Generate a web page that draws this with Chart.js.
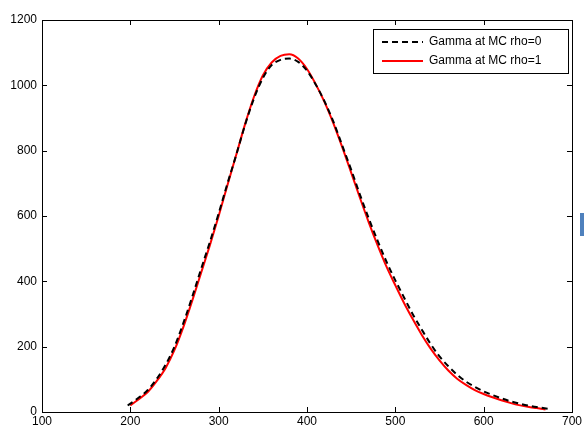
<!DOCTYPE html>
<html>
<head>
<meta charset="utf-8">
<script src="https://cdn.jsdelivr.net/npm/chart.js@4/dist/chart.umd.min.js"></script>
<style>
  html, body { margin: 0; padding: 0; background: #fff; }
  #wrap { width: 584px; height: 428px; }
</style>
</head>
<body>
<div id="wrap"><canvas id="gammaChart" width="584" height="428"></canvas></div>
<script>
// x positions and values
const xRho0 = [197, 210, 220, 230, 240, 250, 260, 270, 280, 290, 300, 310, 320, 330, 340, 350, 360, 370, 380, 390,
               400, 410, 420, 430, 440, 450, 460, 470, 480, 490, 500, 510, 520, 530, 540, 550, 560, 570, 580, 590,
               600, 610, 620, 630, 640, 650, 660, 676];
const yRho0 = [20, 45, 68, 102, 145, 200, 272, 352, 437, 520, 608, 700, 788, 880, 960, 1022, 1062, 1078, 1082, 1072,
               1045, 1002, 950, 888, 815, 742, 665, 592, 524, 460, 403, 350, 298, 252, 208, 170, 140, 114, 93, 77,
               63, 52, 42, 33, 26, 20, 15, 9];
const xRho1 = [200, 210, 220, 230, 240, 250, 260, 270, 280, 290, 300, 310, 320, 330, 340, 350, 360, 370, 380, 390,
               400, 410, 420, 430, 440, 450, 460, 470, 480, 490, 500, 510, 520, 530, 540, 550, 560, 570, 580, 590,
               600, 610, 620, 630, 640, 650, 660, 670];
const yRho1 = [20, 40, 62, 95, 135, 190, 260, 340, 425, 510, 600, 695, 788, 882, 965, 1030, 1070, 1090, 1095, 1082,
               1050, 1003, 948, 883, 810, 733, 655, 580, 510, 445, 388, 333, 283, 236, 194, 158, 127, 102, 83, 67,
               55, 45, 36, 28, 21, 16, 12, 8];
const seriesLabels = ['Gamma at MC rho=0', 'Gamma at MC rho=1'];
const xTicks = [100, 200, 300, 400, 500, 600, 700];
const yTicks = [0, 200, 400, 600, 800, 1000, 1200];

const pts = (xs, ys) => xs.map((x, i) => ({ x: x, y: ys[i] }));

// box frame, inward ticks on all four sides, boxed legend
const framePlugin = {
  id: 'frame',
  afterDraw(chart) {
    const { ctx, chartArea: a, scales } = chart;
    ctx.save();
    ctx.strokeStyle = '#000';
    ctx.lineWidth = 1;
    ctx.strokeRect(Math.round(a.left) + 0.5, Math.round(a.top) + 0.5,
                   Math.round(a.right - a.left), Math.round(a.bottom - a.top));
    ctx.beginPath();
    xTicks.forEach(v => {
      const px = Math.round(scales.x.getPixelForValue(v)) + 0.5;
      ctx.moveTo(px, a.bottom); ctx.lineTo(px, a.bottom - 5);
      ctx.moveTo(px, a.top); ctx.lineTo(px, a.top + 5);
    });
    yTicks.forEach(v => {
      const py = Math.round(scales.y.getPixelForValue(v)) + 0.5;
      ctx.moveTo(a.left, py); ctx.lineTo(a.left + 5, py);
      ctx.moveTo(a.right, py); ctx.lineTo(a.right - 5, py);
    });
    ctx.stroke();

    // legend
    const lx = 373, ly = 29, lw = 195, lh = 44;
    ctx.fillStyle = '#fff';
    ctx.fillRect(lx, ly, lw, lh);
    ctx.strokeRect(lx + 0.5, ly + 0.5, lw, lh);
    ctx.font = '12px "Liberation Sans", Arial, sans-serif';
    ctx.textBaseline = 'middle';
    chart.data.datasets.forEach((ds, i) => {
      const ry = ly + 13 + i * 19;
      ctx.beginPath();
      ctx.strokeStyle = ds.borderColor;
      ctx.lineWidth = 2;
      ctx.setLineDash(ds.borderDash || []);
      ctx.moveTo(382, ry); ctx.lineTo(423, ry);
      ctx.stroke();
      ctx.setLineDash([]);
      ctx.fillStyle = '#000';
      ctx.fillText(ds.label, 429, ry);
    });

    // small blue mark at the right edge
    ctx.fillStyle = '#4f81bd';
    ctx.fillRect(580, 213, 4, 23);
    ctx.restore();
  }
};

const tickFont = { family: '"Liberation Sans", Arial, sans-serif', size: 12 };

new Chart(document.getElementById('gammaChart'), {
  type: 'line',
  data: {
    datasets: [
      { label: seriesLabels[0], data: pts(xRho0, yRho0), borderColor: '#000', borderWidth: 2,
        borderDash: [6, 4], pointRadius: 0, fill: false, cubicInterpolationMode: 'monotone' },
      { label: seriesLabels[1], data: pts(xRho1, yRho1), borderColor: '#ff0000', borderWidth: 2,
        pointRadius: 0, fill: false, cubicInterpolationMode: 'monotone' }
    ]
  },
  options: {
    responsive: false,
    animation: false,
    events: [],
    layout: { padding: { top: 20, right: 12, left: 0, bottom: 0 } },
    plugins: { legend: { display: false }, tooltip: { enabled: false } },
    scales: {
      x: {
        type: 'linear', min: 100, max: 700,
        grid: { display: false, drawTicks: false, tickLength: 0 }, border: { display: false },
        afterFit: s => { s.height = 16; },
        afterBuildTicks: s => { s.ticks = xTicks.map(v => ({ value: v })); },
        ticks: { color: '#000', padding: 2, maxRotation: 0, font: tickFont,
                 callback: v => String(v) }
      },
      y: {
        type: 'linear', min: 0, max: 1200,
        grid: { display: false, drawTicks: false, tickLength: 0 }, border: { display: false },
        afterFit: s => { s.width = 42; },
        afterBuildTicks: s => { s.ticks = yTicks.map(v => ({ value: v })); },
        ticks: { color: '#000', padding: 5, font: tickFont,
                 callback: v => String(v) }
      }
    }
  },
  plugins: [framePlugin]
});
</script>
</body>
</html>
